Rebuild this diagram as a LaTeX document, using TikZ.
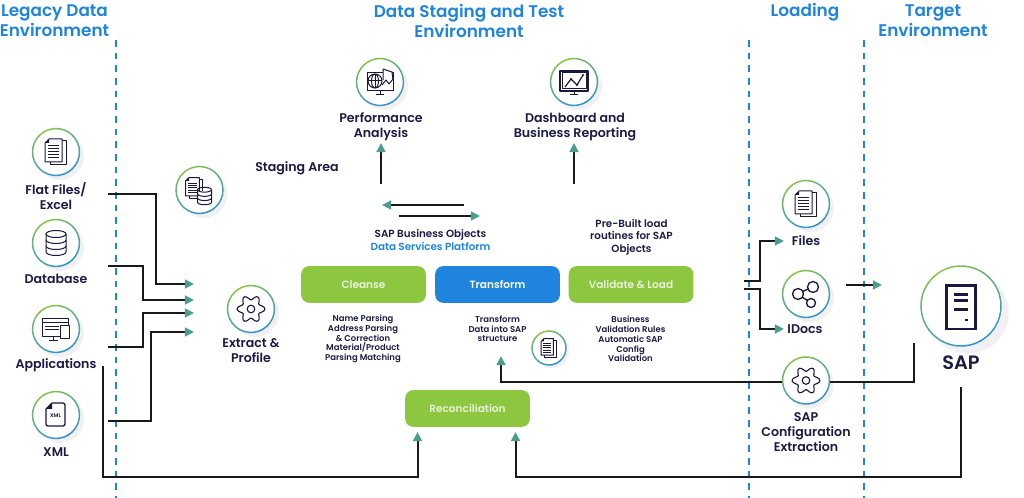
\documentclass[tikz,border=0pt]{standalone}
\usepackage{fontspec}
\setmainfont{Poppins}[BoldFont=Poppins SemiBold]
\usetikzlibrary{arrows.meta,calc}
\definecolor{inkc}{HTML}{1C1B45}
\definecolor{bluec}{HTML}{1E84DE}
\definecolor{greenc}{HTML}{8DC63F}
\definecolor{ringg}{HTML}{8CC63F}
\definecolor{ringb}{HTML}{2B8FDB}
\definecolor{tipc}{HTML}{4A9E8E}
\definecolor{shad}{HTML}{F1F1F4}
\definecolor{boxt}{HTML}{E9F5DC}
\tikzset{
  title/.style={font=\fontsize{12.65pt}{15pt}\selectfont\bfseries,text=bluec,align=center,inner sep=0},
  lab/.style={font=\fontsize{9.45pt}{11.2pt}\selectfont\bfseries,text=inkc,align=center,inner sep=0},
  small/.style={font=\fontsize{6.35pt}{7.3pt}\selectfont\bfseries,text=inkc,align=center,inner sep=0},
  mid/.style={font=\fontsize{7.75pt}{9.4pt}\selectfont\bfseries,text=inkc,align=center,inner sep=0},
  midwide/.style={mid,font=\fontsize{7.75pt}{10.4pt}\selectfont\bfseries},
  gbox/.style={rounded corners=6pt,fill=greenc,minimum width=93.5pt,minimum height=27.5pt,inner sep=0,
     font=\fontsize{7.9pt}{9pt}\selectfont\bfseries,text=boxt},
  bbox/.style={gbox,fill=bluec,text=white},
  sep/.style={draw=bluec,line width=1.5pt,dash pattern=on 5pt off 4.5pt},
  conn/.style={draw=black!90,line width=1.5pt,line join=miter},
  arr/.style={conn,-{Triangle[color=tipc,length=6.8pt,width=6.6pt]}},
  ic/.style={draw=inkc!90!black,line width=.75pt,line join=round},
  icf/.style={fill=inkc!90!black},
}
\newcommand{\roundel}[5]{%
  \fill[shad] ($(#2,#3)+(#4*.17,#4*.17)$) circle[radius=#4*.75pt*1.02];
  \node[circle,fill=white,inner sep=0,minimum size={#4*1.5pt}] (#1) at (#2,#3) {};
  \begin{scope}[shift={(#2,#3)},x=.75pt,y=.75pt]
    \foreach \a in {0,12,...,348}{
      \pgfmathtruncatemacro\p{abs(mod(\a+70+180,360)-180)/180*100}
      \draw[color=ringg!\p!ringb,line width=1.1pt] (\a:#4) arc[start angle=\a,delta angle=13,radius=#4];
    }
    \begin{scope}[scale=#4/23.5]#5\end{scope}
  \end{scope}}
\newcommand{\docs}{%
  \draw[ic] (6,11)--(10,11)--(10,-13)--(-6,-13)--(-6,-10);
  \draw[ic] (-7,13)--(6,13)--(6,-10)--(-11,-10)--(-11,9)--cycle;
  \fill[icf] (-11,9)--(-7,13)--(-7,9)--cycle;
  \foreach \yy in {6,3,0,-3,-6}{\draw[ic] (-8,\yy)--(3,\yy);}}
\newcommand{\dbase}[3]{%
  \begin{scope}[shift={(#1,#2)},scale=#3]
  \draw[ic] (0,9) ellipse[x radius=10,y radius=3.5];
  \draw[ic] (-10,9)--(-10,-9) arc[start angle=180,end angle=360,x radius=10,y radius=3.5]--(10,9);
  \draw[ic] (-10,3) arc[start angle=180,end angle=360,x radius=10,y radius=3.5];
  \draw[ic] (-10,-3) arc[start angle=180,end angle=360,x radius=10,y radius=3.5];
  \end{scope}}
\newcommand{\gear}{%
  \draw[ic,line width=.85pt] plot[smooth cycle,samples=49,domain=0:352.5,variable=\t]
    ({(11.5+2.4*cos(6*\t))*cos(\t)},{(11.5+2.4*cos(6*\t))*sin(\t)});
  \draw[ic,line width=.85pt] (0,0) circle[radius=3.8];}
\begin{document}
\begin{tikzpicture}[x=.75pt,y=-.75pt]
\useasboundingbox (0,0) rectangle (1024,498);
\fill[white] (0,0) rectangle (1024,498);
% separators
\coordinate (s1t) at (116,40); \coordinate (s1b) at (116,498);
\coordinate (s2t) at (749,40); \coordinate (s2b) at (749,498);
\coordinate (s3t) at (864,40); \coordinate (s3b) at (864,498);
\draw[sep] (s1t)--(s1b); \draw[sep] (s2t)--(s2b); \draw[sep] (s3t)--(s3b);
% titles
\node[title] (t1) at (54.5,21) {Legacy Data\\Environment};
\node[title] (t2) at (469,21) {Data Staging and Test\\Environment};
\node[title] (t3) at (805,12.5) {Loading};
\node[title] (t4) at (933,21) {Target\\Environment};
% connector ends
\coordinate (flatO) at (108,194); \coordinate (dbO) at (108,266);
\coordinate (appO) at (108,347); \coordinate (xmlO) at (108,421);
\coordinate (exA) at (194,284); \coordinate (exB) at (194,300);
\coordinate (exC) at (194,313); \coordinate (exD) at (194,332);
\coordinate (appB) at (103,366); \coordinate (recL) at (417.5,432);
\coordinate (sapB) at (961,387); \coordinate (recR) at (515.5,432);
\coordinate (sapL) at (914,343); \coordinate (trIn) at (501,356);
\coordinate (perfI) at (381,143); \coordinate (perfO) at (381,184);
\coordinate (dashI) at (574,143); \coordinate (dashO) at (574,184);
\coordinate (leftA) at (464,205); \coordinate (leftB) at (382,205);
\coordinate (rightA) at (399,216); \coordinate (rightB) at (480,216);
\coordinate (fileO) at (744,281); \coordinate (fileI) at (784,241);
\coordinate (idocO) at (744,289); \coordinate (idocI) at (784,329);
\coordinate (loadA) at (846,285); \coordinate (loadB) at (882,285);
% connectors
\draw[arr] (flatO) -- ++(47.5,0) |- (exA);
\draw[arr] (dbO) -- ++(35,0) |- (exB);
\draw[arr] (appO) -- ++(35,0) |- (exC);
\draw[arr] (xmlO) -- ++(43,0) |- (exD);
\draw[arr] (appB) |- (300,477.5) -| (recL);
\draw[arr] (sapB) |- (700,477.5) -| (recR);
\draw[arr] (perfO) -- (perfI);
\draw[arr] (dashO) -- (dashI);
\draw[arr] (leftA) -- (leftB);
\draw[arr] (rightA) -- (rightB);
\draw[arr] (fileO) -- ++(16,0) |- (fileI);
\draw[arr] (idocO) -- ++(16,0) |- (idocI);
\draw[arr] (loadA) -- (loadB);
% icons
\roundel{flat}{56}{152}{23.5}{\docs}
\roundel{dbn}{56}{243}{23.5}{\dbase{0}{0}{1}}
\roundel{app}{56}{329}{23.5}{%
  \draw[ic] (-14,10) rectangle (12,-8);
  \draw[ic] (-14,6)--(12,6);
  \draw[ic] (-11,2)--(3,2); \draw[ic] (-11,-1)--(3,-1);
  \draw[ic] (-3,-8)--(-3,-12); \draw[ic] (-7,-12)--(2,-12);
  \draw[ic,fill=white] (4,3) rectangle (13,-10);}
\roundel{xmln}{56}{415}{23.5}{%
  \draw[ic,line width=1pt,rounded corners=1.5pt] (-4,12)--(9,12)--(9,-11)--(-10,-11)--(-10,6);
  \draw[ic,line width=1pt] (-10,6)--(-4,12);
  \fill[icf] (-10,6)--(-4,12)--(-4,6)--cycle;
  \node[inner sep=0,text=inkc,font=\fontsize{4pt}{4pt}\selectfont\bfseries] (xmlt) at (-.5,-1) {XML};}
\roundel{stag}{199.5}{190}{23.5}{%
  \begin{scope}[shift={(-5,2)},scale=.8]\docs\end{scope}
  \fill[white] (-2,-1) rectangle (12,-12);
  \dbase{5}{-6}{.7}}
\roundel{ext}{251}{309}{23.5}{\gear}
\roundel{perf}{380}{82}{23.5}{%
  \draw[ic] (-13,9) rectangle (13,-9);
  \draw[ic] (-4,-13)--(4,-13); \draw[ic] (0,-9)--(0,-13);
  \draw[ic,fill=white] (-5,1) circle[radius=7];
  \draw[ic] (-12,1)--(2,1); \draw[ic] (-5,-6)--(-5,8);
  \draw[ic] (-5,1) ellipse[x radius=3.5,y radius=7];
  \draw[ic,fill=white] (3,2)--(3,13)--(12,10)--(13,2);
  \draw[ic] (2,-3)--(6,2)--(9,-2)--(13,3);}
\roundel{dash}{574}{82}{23.5}{%
  \draw[ic,line width=1pt] (-14,11) rectangle (14,-9);
  \draw[ic] (-12,9) rectangle (12,-7);
  \draw[ic] (-4,-13)--(4,-13); \draw[ic] (0,-9)--(0,-13);
  \draw[ic,line width=.9pt] (-9,-5)--(-3,3)--(3,-3)--(9,7);
  \foreach \q in {(-3,3),(3,-3),(9,7)}{\fill[icf] \q circle[radius=1.2];}}
\roundel{sdoc}{549}{348}{17}{\docs}
\roundel{fil}{806}{204}{23.5}{\docs}
\roundel{idc}{806}{294}{23.5}{%
  \draw[ic,line width=1pt] (-8,0) circle[radius=5.5];
  \draw[ic,line width=1pt] (7,7) circle[radius=5.5];
  \draw[ic,line width=1pt] (5,-9) circle[radius=4.5];
  \draw[ic,line width=1pt] (-3.2,2.5)--(2.2,5);
  \draw[ic,line width=1pt] (-3.6,-3.2)--(1.6,-6.6);}
\roundel{cfg}{806}{380.5}{23.5}{\gear}
\roundel{sap}{961}{306}{40}{%
  \draw[ic,line width=2.1pt,line join=miter] (-8.5,12) rectangle (8.5,-13.5);
  \foreach \yy in {7,3,-1.8}{\fill[icf] (-4.2,\yy+.9) rectangle (4.2,\yy-.9);}
  \fill[icf] (2.2,-7.4) rectangle (3.9,-9);}
% the line through the extraction roundel
\draw[conn] (sapL) |- ($(cfg.east)+(0,1.5)$);
\draw[arr] ($(cfg.west)+(0,1.5)$) -| (trIn);
% boxes
\node[gbox] (cleanse) at (363.5,284.5) {\raisebox{-.4pt}{Cleanse}};
\node[bbox] (transform) at (497.5,284.5) {\raisebox{-.4pt}{Transform}};
\node[gbox] (valid) at (631,284.5) {\raisebox{-.4pt}{Validate \& Load}};
\node[gbox] (recon) at (467.5,408.5) {\raisebox{-.4pt}{Reconciliation}};
% labels
\node[lab] (lflat) at (56,196) {Flat Files/\\Excel};
\node[lab] (ldb) at (56,279) {Database};
\node[lab] (lapp) at (56,365.5) {Applications};
\node[lab] (lxml) at (56,452) {XML};
\node[lab] (lext) at (251,350.5) {Extract \&\\Profile};
\node[lab,anchor=west] (lstag) at (255,168) {Staging Area};
\node[lab] (lperf) at (381,127) {Performance\\Analysis};
\node[lab] (ldash) at (575,127) {Dashboard and\\Business Reporting};
\node[midwide] (lsapb) at (430.5,240) {SAP Business Objects\\\textcolor{bluec}{Data Services Platform}};
\node[mid] (lpre) at (631.5,237) {Pre-Built load\\routines for SAP\\Objects};
\node[small] (lcl) at (363,339) {Name Parsing\\Address Parsing\\\& Correction\\Material/Product\\Parsing Matching};
\node[small] (ltr) at (497.5,329) {Transform\\Data into SAP\\structure};
\node[small] (lva) at (630.5,339) {Business\\Validation Rules\\Automatic SAP\\Config\\Validation};
\node[lab] (lfil) at (806,241) {Files};
\node[lab] (lidc) at (805,329) {IDocs};
\node[lab] (lcfg) at (806,432) {SAP\\Configuration\\Extraction};
\node[inner sep=0,text=inkc,font=\fontsize{14.5pt}{16pt}\selectfont\bfseries] (lsap) at (961,363) {SAP};
\end{tikzpicture}
\end{document}
